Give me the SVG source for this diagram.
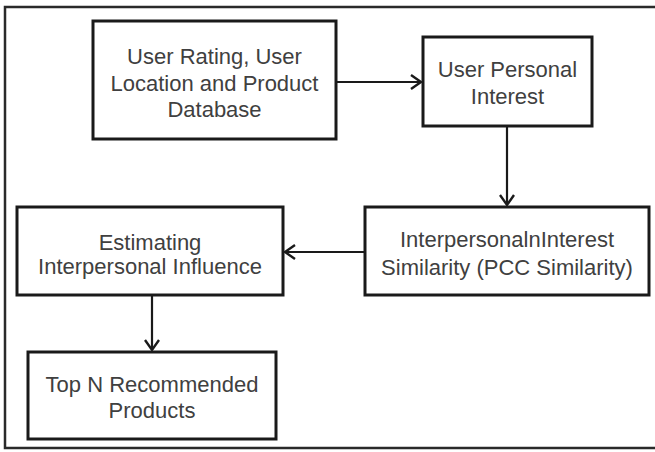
<svg xmlns="http://www.w3.org/2000/svg" width="655" height="452" viewBox="0 0 655 452">
<defs>
<style>
.box{fill:#fff;stroke:#1a1a1a;stroke-width:3}
.t{font-family:"Liberation Sans",Arial,sans-serif;font-size:22px;fill:#404040;text-anchor:middle}
.c{fill:none;stroke:#1a1a1a;stroke-width:2.2}
</style>
<marker id="ah" markerWidth="16" markerHeight="18" refX="12" refY="9" orient="auto" markerUnits="userSpaceOnUse">
<path d="M2,2 L12,9 L2,16" fill="none" stroke="#1a1a1a" stroke-width="2.4"/>
</marker>
</defs>
<rect width="655" height="452" fill="#fff"/>
<path id="frame" d="M655,7 H5 V448 H655" fill="none" stroke="#2a2a2a" stroke-width="2.5"/>
<g id="connectors">
<line class="c" x1="336" y1="82" x2="421" y2="82" marker-end="url(#ah)"/>
<line class="c" x1="507" y1="126" x2="507" y2="205" marker-end="url(#ah)"/>
<line class="c" x1="365" y1="252" x2="285" y2="252" marker-end="url(#ah)"/>
<line class="c" x1="152" y1="295" x2="152" y2="350" marker-end="url(#ah)"/>
</g>
<g id="n1">
<rect class="box" x="93" y="21" width="243" height="118"/>
<text class="t" x="214.5" y="64">User Rating, User</text>
<text class="t" x="214.5" y="91">Location and Product</text>
<text class="t" x="214.5" y="117">Database</text>
</g>
<g id="n2">
<rect class="box" x="423" y="37" width="169" height="89"/>
<text class="t" x="507.5" y="77">User Personal</text>
<text class="t" x="507.5" y="104">Interest</text>
</g>
<g id="n3">
<rect class="box" x="365" y="207" width="284" height="88"/>
<text class="t" x="507" y="247">InterpersonalnInterest</text>
<text class="t" x="507" y="275">Similarity (PCC Similarity)</text>
</g>
<g id="n4">
<rect class="box" x="17" y="207" width="266" height="88"/>
<text class="t" x="150" y="250">Estimating</text>
<text class="t" x="150" y="274">Interpersonal Influence</text>
</g>
<g id="n5">
<rect class="box" x="28" y="352" width="248" height="87"/>
<text class="t" x="152" y="392">Top N Recommended</text>
<text class="t" x="152" y="418">Products</text>
</g>
</svg>
